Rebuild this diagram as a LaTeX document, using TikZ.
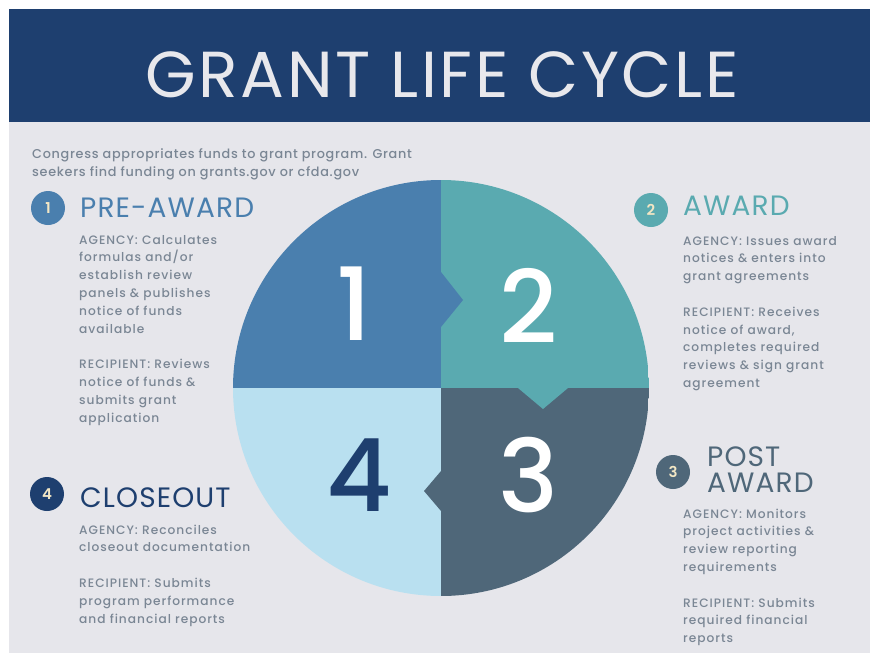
\documentclass[tikz,border=0pt]{standalone}
\usepackage{fontspec}
\setmainfont{Poppins}[UprightFont={* Medium},BoldFont={* SemiBold}]
\newfontfamily\regular{Poppins}
\definecolor{cBanda}{HTML}{1E3F6F}
\definecolor{cFondo}{HTML}{E6E6EB}
\definecolor{cUno}{HTML}{4A7FAE}
\definecolor{cDos}{HTML}{5AAAB0}
\definecolor{cTres}{HTML}{4F6779}
\definecolor{cCuatro}{HTML}{B9E0F0}
\definecolor{cTexto}{HTML}{7A8694}
\definecolor{cCrema}{HTML}{F2E6C4}
\definecolor{cTitulo}{HTML}{E8E8EC}
\begin{document}
\begin{tikzpicture}[x=1pt,y=-1pt,
    cuerpo/.style={anchor=base west,inner sep=0pt,align=left,text=cTexto,
      font=\fontsize{12.2}{17.8}\selectfont\addfontfeatures{LetterSpace=8}},
    encabezado/.style={anchor=base west,inner sep=0pt,align=left,
      font=\regular\fontsize{28}{26}\selectfont\addfontfeatures{LetterSpace=4}},
    insignia/.style={circle,minimum size=34pt,inner sep=0pt,text=cCrema,
      font=\bfseries\fontsize{15}{15}\selectfont},
    cifra/.style={inner sep=0pt,font=\fontsize{101}{101}\selectfont}]

    % Fondo y banda del título
    \useasboundingbox (0,0) rectangle (872,653);
    \fill[white] (0,0) rectangle (872,653);
    \fill[cFondo] (9,9) rectangle (870,653);
    \fill[cBanda] (9,9) rectangle (870,122);
    \node[anchor=base,inner sep=0pt,text=cTitulo,
      font=\regular\fontsize{65}{65}\selectfont\addfontfeatures{LetterSpace=4}]
      (titulo) at (442,97) {GRANT LIFE CYCLE};

    % Texto introductorio
    \node[cuerpo,font=\fontsize{12.8}{18}\selectfont\addfontfeatures{LetterSpace=5.5}]
      (intro) at (32,176)
      {Congress appropriates funds to grant program. Grant\\
       seekers find funding on grants.gov or cfda.gov};

    % Círculo en cuatro cuadrantes
    \begin{scope}
      \clip (441,388) circle[radius=208];
      \fill[cUno] (233,180) rectangle (441,388);
      \fill[cDos] (441,180) rectangle (649,388);
      \fill[cTres] (441,388) rectangle (649,596);
      \fill[cCuatro] (233,388) rectangle (441,596);
      % Muescas entre cuadrantes
      \fill[cUno] (441,272) -- (463,300) -- (441,327) -- cycle;
      \fill[cDos] (518,388) -- (543,409) -- (568,388) -- cycle;
      \fill[cTres] (441,471) -- (424,491) -- (441,511) -- cycle;
    \end{scope}

    % Cifras grandes
    \node[cifra,text=white] (n1) at (354,304) {1};
    \node[cifra,text=white] (n2) at (529,306) {2};
    \node[cifra,text=white] (n3) at (528,475) {3};
    \node[cifra,text=cBanda] (n4) at (359,475) {4};

    % Etapa 1
    \node[insignia,fill=cUno] (b1) at (48,208) {1};
    \node[encabezado,text=cUno] (h1) at (80,217) {PRE-AWARD};
    \node[cuerpo] (t1) at (79,422)
      {AGENCY: Calculates\\ formulas and/or\\ establish review\\
       panels \& publishes\\ notice of funds\\ available\\[17.8pt]
       RECIPIENT: Reviews\\ notice of funds \&\\ submits grant\\ application};

    % Etapa 2
    \node[insignia,fill=cDos] (b2) at (651,210) {2};
    \node[encabezado,text=cDos] (h2) at (683,215) {AWARD};
    \node[cuerpo] (t2) at (683,387.4)
      {AGENCY: Issues award\\ notices \& enters into\\ grant agreements\\[17.8pt]
       RECIPIENT: Receives\\ notice of award,\\ completes required\\
       reviews \& sign grant\\ agreement};

    % Etapa 3
    \node[insignia,fill=cTres] (b3) at (673,472) {3};
    \node[encabezado,text=cTres] (h3) at (707,492) {POST\\ AWARD};
    \node[cuerpo] (t3) at (683,642.6)
      {AGENCY: Monitors\\ project activities \&\\ review reporting\\
       requirements\\[17.8pt]
       RECIPIENT: Submits\\ required financial\\ reports};

    % Etapa 4
    \node[insignia,fill=cBanda] (b4) at (47,494) {4};
    \node[encabezado,text=cBanda] (h4) at (80,507) {CLOSEOUT};
    \node[cuerpo] (t4) at (79,623)
      {AGENCY: Reconciles\\ closeout documentation\\[17.8pt]
       RECIPIENT: Submits\\ program performance\\ and financial reports};
\end{tikzpicture}
\end{document}
